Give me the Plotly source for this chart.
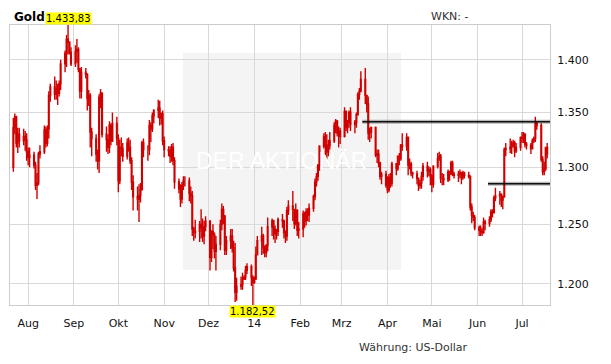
import pandas as pd
import numpy as np
import plotly.graph_objects as go

# ---- data (daily gold, USD), weekdays from 2013-07-22 to 2014-07-18 ----
FIRST_OPEN = 1300
closes = [
    1336,1346,1322,1330,1324, 1328,1325,1314,1309,1311, 1302,1284,1286,1312,1314,
    1334,1322,1335,1366,1374, 1367,1372,1368,1377,1396, 1406,1420,1417,1407,1396,
    1408,1410,1391,1370,1388, 1386,1363,1366,1332,1326, 1312,1306,1364,1368,1330,
    1325,1318,1338,1324,1340, 1326,1288,1318,1317,1310, 1322,1318,1306,1287,1274,
    1272,1275,1280,1322,1316, 1316,1338,1335,1347,1352, 1354,1345,1349,1324,1316,
    1315,1310,1318,1306,1287, 1281,1272,1284,1288,1288, 1277,1275,1246,1243,1244,
    1250,1247,1240,1248,1253, 1222,1244,1241,1227,1233, 1250,1263,1257,1228,1236,
    1240,1230,1213,1193,1198, 1199,1204,1205,1211,1214, 1205,1201,1204,1224,1236,
    1240,1230,1226,1232,1248, 1253,1246,1242,1244,1254, 1253,1243,1240,1262,1266,
    1263,1251,1262,1245,1246, 1259,1253,1261,1258,1264, 1274,1287,1292,1302,1319,
    1328,1320,1314,1320,1324, 1338,1342,1331,1333,1328, 1351,1336,1341,1350,1339,
    1341,1348,1367,1370,1381, 1366,1358,1331,1332,1336, 1311,1312,1304,1292,1294,
    1284,1280,1291,1286,1303, 1299,1310,1308,1320,1319, 1327,1302,1303,1295,1294,
    1290,1284,1286,1292,1301, 1297,1298,1292,1285,1301, 1308,1310,1290,1290,1289,
    1296,1294,1304,1294,1293, 1294,1295,1291,1295,1293, 1292,1265,1258,1256,1247,
    1245,1244,1243,1252,1251, 1254,1261,1260,1273,1275, 1276,1271,1274,1316,1317,
    1318,1320,1322,1315,1318, 1327,1326,1330,1321,1320, 1317,1324,1326,1340,1338,
    1307,1296,1299,1318,1312,
]
highs = [
    1345,1349,1347,1336,1336, 1335,1333,1331,1318,1318, 1314,1305,1295,1314,1320,
    1338,1337,1338,1370,1377, 1384,1380,1377,1380,1400, 1409,1424,1433.83,1418,1412,
    1414,1420,1412,1392,1393, 1392,1387,1371,1368,1336, 1330,1316,1367,1372,1369,
    1337,1330,1342,1340,1350, 1346,1330,1325,1327,1322, 1326,1327,1325,1309,1293,
    1283,1285,1286,1324,1326, 1320,1343,1341,1350,1353, 1362,1361,1350,1352,1328,
    1319,1319,1321,1322,1309, 1290,1285,1287,1292,1292, 1291,1283,1279,1248,1254,
    1253,1263,1255,1253,1257, 1253,1245,1250,1243,1240, 1254,1268,1266,1258,1240,
    1246,1246,1236,1234,1205, 1206,1209,1207,1215,1217, 1216,1207,1206,1231,1240,
    1248,1242,1232,1233,1256, 1255,1254,1249,1246,1256, 1259,1254,1245,1265,1271,
    1279,1263,1268,1263,1252, 1262,1261,1264,1264,1268, 1276,1290,1295,1303,1320,
    1331,1332,1330,1325,1332, 1341,1344,1343,1337,1336, 1355,1352,1343,1352,1355,
    1343,1350,1369,1373,1389, 1392,1362,1365,1336,1337, 1337,1316,1316,1305,1296,
    1297,1292,1294,1295,1305, 1304,1310,1313,1321,1331, 1331,1328,1308,1305,1296,
    1297,1291,1289,1296,1304, 1305,1301,1300,1294,1302, 1313,1314,1312,1295,1294,
    1298,1297,1306,1306,1296, 1297,1298,1296,1297,1296, 1296,1293,1268,1261,1258,
    1249,1249,1247,1256,1254, 1257,1263,1263,1275,1282, 1279,1277,1275,1318,1322,
    1326,1324,1325,1324,1322, 1328,1332,1332,1331,1323, 1322,1326,1328,1346,1342,
    1340,1310,1305,1318,1322,
]
lows = [
    1296,1330,1318,1313,1318, 1320,1315,1306,1302,1300, 1299,1280,1272,1284,1308,
    1312,1318,1319,1326,1360, 1362,1362,1357,1365,1371, 1388,1393,1405,1405,1394,
    1393,1397,1388,1363,1363, 1382,1352,1356,1318,1310, 1305,1298,1295,1354,1327,
    1314,1312,1313,1320,1323, 1320,1278,1285,1310,1305, 1307,1314,1303,1280,1262,
    1262,1252,1269,1280,1309, 1306,1311,1323,1332,1340, 1345,1338,1339,1320,1309,
    1310,1304,1305,1302,1281, 1277,1265,1268,1280,1283, 1270,1268,1240,1236,1238,
    1235,1238,1235,1233,1244, 1211,1218,1229,1221,1211, 1228,1245,1250,1224,1224,
    1229,1226,1210,1185,1186, 1195,1195,1203,1203,1208, 1198,1182.52,1200,1203,1224,
    1224,1225,1222,1222,1227, 1240,1237,1234,1237,1240, 1247,1238,1234,1236,1258,
    1253,1246,1249,1240,1238, 1239,1247,1249,1253,1252, 1261,1271,1283,1288,1297,
    1317,1311,1307,1310,1316, 1322,1331,1328,1318,1321, 1327,1333,1331,1336,1333,
    1331,1336,1348,1362,1369, 1358,1350,1325,1323,1326, 1309,1304,1300,1289,1285,
    1282,1277,1278,1282,1283, 1293,1297,1302,1306,1315, 1315,1293,1298,1292,1290,
    1285,1279,1281,1281,1288, 1291,1292,1284,1278,1282, 1299,1306,1286,1284,1284,
    1287,1288,1294,1292,1290, 1287,1290,1285,1289,1290, 1290,1262,1251,1253,1245,
    1240,1240,1240,1242,1245, 1248,1252,1256,1260,1270, 1267,1265,1263,1273,1310,
    1313,1312,1318,1309,1313, 1315,1322,1322,1318,1316, 1312,1316,1322,1323,1334,
    1305,1293,1293,1297,1308,
]
dates = pd.bdate_range("2013-07-22", periods=len(closes))

# resistance / support levels drawn on the chart
level_values = [1341.5, 1285.4]
level_starts = ["2014-03-15", "2014-06-08"]
level_end = "2014-07-20"

month_ticks = ["2013-08-01", "2013-09-01", "2013-10-01", "2013-11-01", "2013-12-01",
               "2014-01-01", "2014-02-01", "2014-03-01", "2014-04-01", "2014-05-01",
               "2014-06-01", "2014-07-01"]
month_labels = ["Aug", "Sep", "Okt", "Nov", "Dez", "14", "Feb", "Mrz", "Apr", "Mai", "Jun", "Jul"]
y_ticks = [1200, 1250, 1300, 1350, 1400]
y_labels = ["1.200", "1.250", "1.300", "1.350", "1.400"]

# ---- build ----
c = np.array(closes, dtype=float)
o = np.concatenate([[FIRST_OPEN], c[:-1]])
h = np.maximum(np.array(highs, dtype=float), np.maximum(o, c))
l = np.minimum(np.array(lows, dtype=float), np.minimum(o, c))

RED = "#d00000"
FONT = "DejaVu Sans"

fig = go.Figure()
fig.add_trace(go.Candlestick(
    x=dates, open=o, high=h, low=l, close=c,
    increasing=dict(line=dict(color=RED, width=1.4), fillcolor="rgba(255,255,255,0)"),
    decreasing=dict(line=dict(color=RED, width=1.4), fillcolor=RED),
    whiskerwidth=0, hoverinfo="skip", showlegend=False,
))

for v, s in zip(level_values, level_starts):
    fig.add_trace(go.Scatter(x=[s, level_end], y=[v, v], mode="lines",
                             line=dict(color="rgba(0,0,0,0.28)", width=4),
                             hoverinfo="skip", showlegend=False))
    fig.add_trace(go.Scatter(x=[s, level_end], y=[v, v], mode="lines",
                             line=dict(color="#111111", width=1.6),
                             hoverinfo="skip", showlegend=False))

imax = int(np.argmax(h))
imin = int(np.argmin(l))
fmt = lambda v: f"{v:,.2f}".replace(",", "X").replace(".", ",").replace("X", ".")

# the page adds an 8px body margin, so the figure is sized to fit inside it
fig.update_layout(
    width=603, height=356,
    margin=dict(l=2, r=61, t=17, b=59),
    paper_bgcolor="white", plot_bgcolor="white",
    font=dict(family=FONT, size=11, color="#222222"),
    showlegend=False,
    xaxis=dict(
        type="date", range=["2013-07-19 18:00", "2014-07-19 22:00"],
        tickvals=month_ticks, ticktext=month_labels,
        showgrid=True, gridcolor="#d9d9d9", gridwidth=1,
        showline=True, linecolor="#cccccc", linewidth=1, mirror=True,
        ticks="", ticklabelstandoff=8,
        rangeslider=dict(visible=False), fixedrange=True,
        tickfont=dict(family=FONT, size=11, color="#111111"),
    ),
    yaxis=dict(
        type="log", side="right",
        range=[np.log10(l.min()), np.log10(h.max())],
        tickvals=y_ticks, ticktext=y_labels,
        showgrid=True, gridcolor="#d9d9d9", gridwidth=1,
        showline=True, linecolor="#cccccc", linewidth=1, mirror=True,
        ticks="", ticklabelstandoff=4, zeroline=False, fixedrange=True,
        tickfont=dict(family=FONT, size=11, color="#111111"),
    ),
    shapes=[dict(type="rect", xref="paper", yref="paper",
                 x0=0.3204, x1=0.7241, y0=0.125, y1=0.90,
                 fillcolor="#f4f4f4", line=dict(width=0), layer="below")],
    annotations=[
        dict(text="DER AKTIONÄR", xref="paper", yref="paper", x=0.502, y=0.514,
             showarrow=False, font=dict(family="Liberation Sans", size=23, color="white"),
             xanchor="center", yanchor="middle"),
        dict(text="<b>Gold</b>", xref="paper", yref="paper", x=0.0037, y=1.0600,
             showarrow=False, xanchor="left", yanchor="top",
             font=dict(family=FONT, size=12, color="#000000")),
        dict(text="WKN: -", xref="paper", yref="paper", x=0.776, y=1.0600,
             showarrow=False, xanchor="left", yanchor="top",
             font=dict(family=FONT, size=11, color="#333333")),
        dict(text="Währung: US-Dollar", xref="paper", yref="paper", x=0.748, y=-0.15,
             showarrow=False, xanchor="center", yanchor="middle",
             font=dict(family=FONT, size=11, color="#333333")),
        dict(text=fmt(h[imax]), x=dates[imax], xref="x", yref="paper", y=1.0,
             showarrow=False, xanchor="center", yanchor="bottom", bgcolor="#ffff00",
             borderpad=0, font=dict(family=FONT, size=10, color="#000000")),
        dict(text=fmt(l[imin]), x=dates[imin], xref="x", yref="paper", y=0.0,
             showarrow=False, xanchor="center", yanchor="top", bgcolor="#ffff00",
             borderpad=0, font=dict(family=FONT, size=10, color="#000000")),
    ],
)

fig.write_html("out.html")
